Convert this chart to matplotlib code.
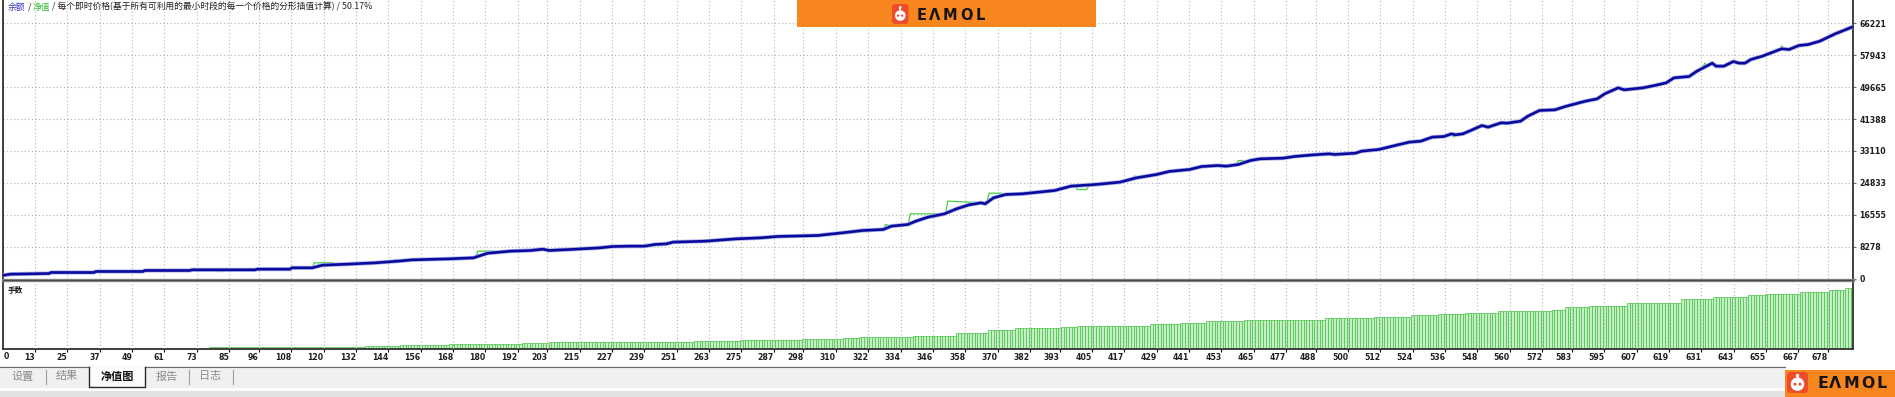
import numpy as np
import matplotlib
matplotlib.use("Agg")
import matplotlib.pyplot as plt
from matplotlib.patches import Rectangle, FancyBboxPatch, Circle

plt.rcParams['font.family'] = ['Noto Sans CJK SC', 'DejaVu Sans']

# balance curve: trade number -> balance
bal_idx = [0, 3.8, 18.2, 18.9, 34.8, 35.6, 53, 53.7, 70.4, 71.2, 94.6, 95.4, 107.5, 108.3, 115.8,
           119.6, 128.7, 139.3, 147.6, 152.9, 166.5, 175.6, 180.9, 189.3, 196.8, 201.4, 203.6, 213.5,
           222.6, 227.1, 233.7, 239, 242.8, 247.3, 249.6, 261.7, 273.1, 282.1, 288.2, 303.3, 312.4,
           320, 327.6, 330.6, 336.7, 339.7, 344.2, 350.3, 354.8, 359.4, 363.9, 365.4, 368.5, 373,
           379.1, 391.2, 397.2, 406.3, 415.4, 421.5, 429, 433.6, 441.2, 445.7, 451.7, 454.8, 459.3,
           463.8, 467.4, 475.9, 480.1, 487.2, 493, 495, 502.8, 505, 511.4, 518.5, 522.7, 527, 531.2,
           535.6, 538.4, 539.8, 542.6, 546.9, 549.7, 551.9, 556.8, 559, 564, 566.7, 571, 576.7, 581,
           588.1, 592.4, 595.2, 600.2, 602.4, 609.4, 613.7, 618, 620.9, 626.5, 629.4, 635.1, 636.5,
           639.4, 642.9, 645.1, 647.2, 649.4, 653.7, 660.8, 663.6, 667.2, 670.7, 675, 680.7, 687.5]
bal_val = [690, 1120, 1300, 1560, 1560, 1820, 1820, 2080, 2080, 2250, 2250, 2420, 2420, 2770, 2770,
           3460, 3720, 4070, 4500, 4840, 5100, 5360, 6570, 7090, 7270, 7610, 7270, 7610,
           7960, 8300, 8390, 8390, 8820, 9000, 9430, 9690, 10290, 10550, 10900, 11160, 11850,
           12460, 12720, 13580, 14010, 14880, 15920, 16780, 18080, 19120, 19640, 19380, 20930, 21800,
           21970, 22840, 23960, 24390, 25000, 26120, 26990, 27770, 28290, 29060, 29320, 29150, 29580,
           30620, 31050, 31230, 31660, 32090, 32350, 32180, 32530, 33040, 33480, 34690, 35380, 35640, 36680,
           36850, 37540, 37280, 37540, 38840, 39700, 39270, 40400, 40310, 40830, 42130, 43600, 43770, 44720,
           46020, 46620, 47920, 49480, 48960, 49480, 50080, 50770, 52070, 52420, 53800, 55880, 55100,
           55100, 56310, 55880, 55880, 56830, 57700, 59600, 59430, 60460, 60720, 61590, 63490, 65390]

# equity where it leaves the balance line
eq_idx = [[79, 80, 82.5, 83], [115.8, 116.5, 123.4, 124.5], [145.5, 146.5, 149, 150],
          [161.5, 162, 163.5, 164], [176.4, 177.2, 183.2, 184.5], [246.5, 247.3, 248.5, 249.2],
          [327.8, 328.4, 329.8, 330.6], [336.9, 337.6, 350.3], [350.8, 351.5, 359.4, 363.9],
          [366, 366.9, 371.5, 373], [399, 399.5, 403, 404], [420, 420.8, 421.6],
          [458.5, 459.3, 461, 462], [538.6, 539.1, 539.8], [547, 547.6, 548.5],
          [631.5, 632.3, 633], [660.3, 660.9, 661.5]]
eq_val = [[2080, 1820, 1820, 2080], [2770, 4070, 4070, 3640], [4390, 4850, 4850, 4650],
          [5010, 4840, 4840, 5070], [5420, 7090, 7090, 6800], [8970, 9430, 9430, 9330],
          [12780, 14010, 13800, 13580], [14070, 16780, 16780], [16920, 20070, 19810, 19640],
          [19680, 22140, 22140, 21800], [24040, 23090, 23090, 24100], [25840, 26640, 26140],
          [29500, 30620, 30620, 30200], [37500, 36680, 37280], [39000, 39530, 39250],
          [54700, 55880, 55200], [59450, 60400, 59560]]

# lots: each value holds from its start trade up to the next start
lot_start = [78, 136, 149, 167, 194, 204, 225, 258, 275, 298, 313, 319, 339, 355, 367, 377, 394, 400,
             414, 427, 438, 448, 462, 492, 510, 524, 534, 544, 556, 576, 581, 590, 604, 624, 636, 649,
             655, 668, 679, 685]
lot_value = [0.14, 0.25, 0.40, 0.50, 0.57, 0.68, 0.75, 0.79, 0.93, 1.00, 1.15, 1.22, 1.29, 1.65, 1.94,
             2.15, 2.26, 2.37, 2.47, 2.58, 2.76, 2.94, 3.10, 3.26, 3.37, 3.55, 3.73, 3.80, 3.98, 4.16,
             4.44, 4.62, 4.91, 5.27, 5.52, 5.70, 5.88, 6.05, 6.34, 6.53]
n_trades = 688

x_ticks = [0, 13, 25, 37, 49, 61, 73, 85, 96, 108, 120, 132, 144, 156, 168, 180, 192, 203, 215, 227,
           239, 251, 263, 275, 287, 298, 310, 322, 334, 346, 358, 370, 382, 393, 405, 417, 429, 441,
           453, 465, 477, 488, 500, 512, 524, 536, 548, 560, 572, 583, 595, 607, 619, 631, 643, 655,
           667, 678]
y_ticks = [0, 8278, 16555, 24833, 33110, 41388, 49665, 57943, 66221]

title_text = ["余额", " / ", "净值", " / 每个即时价格(基于所有可利用的最小时段的每一个价格的分形插值计算) / 50.17%"]
title_color = ["#3b3bc4", "#222222", "#2cbf2c", "#222222"]
tabs = ["设置", "结果", "净值图", "报告", "日志"]
tab_x = [23, 67, 117, 167, 210]

W, H = 1895, 397
def box(x0, y0, x1, y1):
    return [x0 / W, 1 - y1 / H, (x1 - x0) / W, (y1 - y0) / H]

fig = plt.figure(figsize=(W / 100, H / 100), dpi=100)
fig.patch.set_facecolor("white")
grid_kw = dict(color="#b4b4b4", lw=0.8, linestyle=(0, (1, 2.2)))
tick_font = dict(family="DejaVu Sans", weight="bold")
xlo, xhi = 1.1, 687.3

# main panel: balance / equity
ax = fig.add_axes(box(3, 0, 1853, 278.5))
ax.set_xlim(xlo, xhi)
ax.set_ylim(0, 72270)
for p_i, p_v in zip(eq_idx, eq_val):
    ax.plot(p_i, p_v, color="#46cc46", lw=0.9, zorder=3)
ax.plot(bal_idx, bal_val, color="#aab0ee", lw=3.0, zorder=4, solid_capstyle="round")
ax.plot(bal_idx, bal_val, color="#0a0a9c", lw=1.9, zorder=5, solid_capstyle="round")
ax.set_xticks(x_ticks[1:])
ax.tick_params(axis="x", length=0, labelbottom=False)
ax.yaxis.tick_right()
ax.set_yticks(y_ticks)
ax.set_yticklabels([str(v) for v in y_ticks], **tick_font)
ax.tick_params(axis="y", length=2.5, width=0.8, color="#8a6a3a", pad=2, labelsize=5.6, labelcolor="#1e1e1e")
ax.grid(True, **grid_kw)
ax.set_axisbelow(True)
ax.spines["top"].set_visible(False)
ax.spines["bottom"].set_visible(False)
for s in ["left", "right"]:
    ax.spines[s].set_color("#303030")
    ax.spines[s].set_linewidth(1.3)

# lots panel
lots = np.zeros(n_trades)
bounds = lot_start + [n_trades]
for k in range(len(lot_value)):
    lots[bounds[k]:bounds[k + 1]] = lot_value[k]
ax2 = fig.add_axes(box(3, 281.5, 1853, 348.5))
ax2.set_xlim(xlo, xhi)
ax2.set_ylim(0, 7.2)
has = lots > 0
ax2.bar(np.arange(n_trades)[has], lots[has], width=1.0, color="#c6efc6", edgecolor="#3cbe3c", lw=0.45, zorder=1)
ax2.set_yticks([])
ax2.set_xticks(x_ticks[1:])
ax2.set_xticklabels([str(v) for v in x_ticks[1:]], ha="right", **tick_font)
ax2.tick_params(axis="x", length=2, width=0.8, pad=1.5, labelsize=5.6, labelcolor="#1e1e1e")
ax2.grid(True, axis="x", zorder=2, **grid_kw)
ax2.set_axisbelow(False)
ax2.spines["top"].set_visible(False)
for s in ["left", "right", "bottom"]:
    ax2.spines[s].set_color("#303030")
    ax2.spines[s].set_linewidth(1.3)

# overlay in pixel units for the window decorations
ov = fig.add_axes([0, 0, 1, 1])
ov.set_xlim(0, W)
ov.set_ylim(H, 0)
ov.axis("off")

ov.plot([3, 1853], [280, 280], color="#8c8c8c", lw=2.4)
ov.plot([3, 1853], [280, 280], color="#4a4a4a", lw=1.0)
ov.text(4, 356.5, str(x_ticks[0]), fontsize=5.6, va="center", ha="left", color="#1e1e1e", **tick_font)
ov.text(8, 290.5, "手数", fontsize=5.5, va="center", ha="left", color="#111111", weight="bold")

t = ov.text(8, 7, title_text[0], fontsize=6.35, color=title_color[0], va="center", ha="left", weight="medium")
for s, c in zip(title_text[1:], title_color[1:]):
    t = ov.annotate(s, xy=(1, 0), xycoords=t, va="bottom", ha="left", fontsize=6.35, color=c, weight="medium")

# tab strip
ov.add_patch(Rectangle((0, 366), 1785, 22, fc="#f0f0f0", ec="none"))
ov.add_patch(Rectangle((0, 391), 1785, 6, fc="#e2e2e2", ec="none"))
ov.plot([0, 89], [366.5, 366.5], color="#6a6a6a", lw=0.8)
ov.plot([145, 1785], [366.5, 366.5], color="#6a6a6a", lw=0.8)
ov.add_patch(Rectangle((89, 366), 56, 21, fc="#fbfbfb", ec="none"))
ov.plot([89, 89, 145, 145], [366.5, 387, 387, 366.5], color="#2a2a2a", lw=1.0)
for sx in [46, 189, 233]:
    ov.plot([sx, sx], [370, 384], color="#a0a0a0", lw=0.8)
for name, tx in zip(tabs, tab_x):
    active = name == "净值图"
    ov.text(tx, 376.5, name, fontsize=8, ha="center", va="center",
            color="#111111" if active else "#8c8c8c", weight="bold" if active else "normal")


def draw_logo(x0, y0, w, h, tx0, fs, cy):
    ov.add_patch(FancyBboxPatch((x0, y0), w, h, boxstyle="round,pad=0,rounding_size=4",
                                fc="#ee4b2b", ec="none"))
    cx = x0 + w / 2
    ov.add_patch(Circle((cx, y0 + h * 0.58), w * 0.32, fc="white", ec="none"))
    ov.plot([cx, cx], [y0 + h * 0.18, y0 + h * 0.35], color="white", lw=1.2)
    ov.add_patch(Circle((cx, y0 + h * 0.17), w * 0.08, fc="white", ec="none"))
    for dx in [-0.12, 0.12]:
        ov.add_patch(Circle((cx + w * dx, y0 + h * 0.58), w * 0.07, fc="#ee4b2b", ec="none"))
    for ch, off in zip("EΛMOL", [4.5, 17.5, 33, 49.5, 63.5]):
        ov.text(tx0 + off, cy, ch, fontsize=fs, ha="center", va="center", family="DejaVu Sans",
                weight="bold", color="#151515")
    ov.add_patch(Circle((tx0 + 54, cy + 4), 1.4, fc="#ee4b2b", ec="none"))


ov.add_patch(Rectangle((797, 0), 299, 27, fc="#f7861f", ec="none"))
draw_logo(892, 4, 16.5, 20, 917, 10.5, 15)
ov.add_patch(Rectangle((1785, 370), 110, 27, fc="#f7861f", ec="none"))
draw_logo(1787, 372, 21, 21, 1818, 11.3, 383.5)

fig.savefig("out.png", dpi=100)
